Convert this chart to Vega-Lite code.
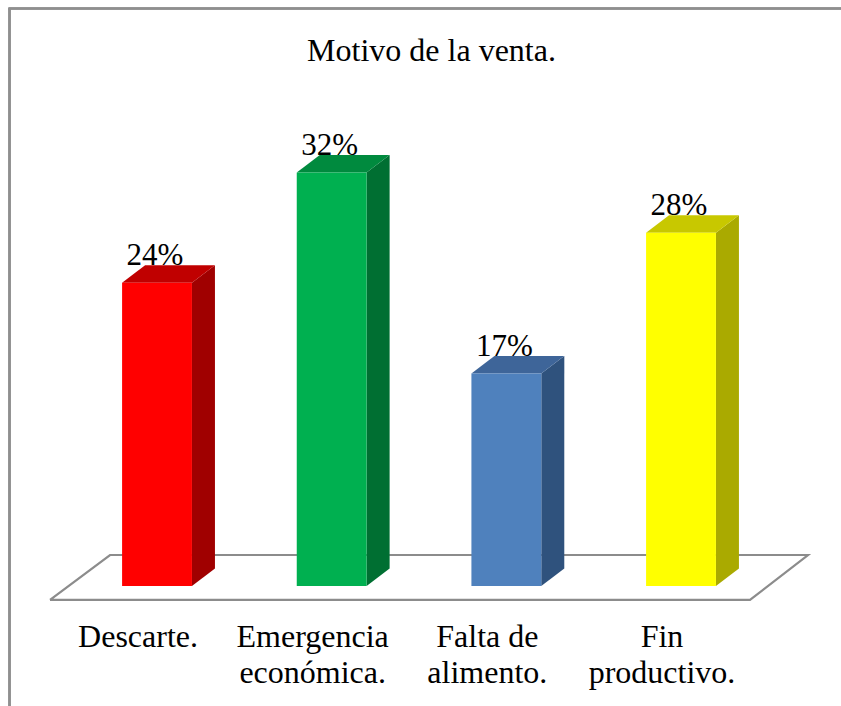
{
"$schema":"https://vega.github.io/schema/vega-lite/v6.json",
"width":841,"height":706,"autosize":{"type":"none"},"padding":0,"background":"white",
"view":{"stroke":null},
"title":{"text":"Motivo de la venta.","font":"Liberation Serif","fontSize":32,"fontWeight":"normal","color":"#000000","anchor":"middle","dx":11,"dy":72},
"datasets":{
"ventas":[
{"motivo":"Descarte.","orden":0,"valor":0.237},
{"motivo":"Emergencia económica.","orden":1,"valor":0.323},
{"motivo":"Falta de alimento.","orden":2,"valor":0.166},
{"motivo":"Fin productivo.","orden":3,"valor":0.276}
],
"piso":[
{"paso":0,"px":-0.6126,"py":-0.0109},
{"paso":1,"px":3.395,"py":-0.0109},
{"paso":2,"px":3.727,"py":0.0242},
{"paso":3,"px":-0.269,"py":0.0242},
{"paso":4,"px":-0.6126,"py":-0.0109}
]
},
"data":{"name":"ventas"},
"layer":[
{"data":{"name":"piso"},
 "mark":{"type":"line","color":"#8c8c8c","strokeWidth":2.2,"strokeJoin":"miter"},
 "encoding":{
  "x":{"field":"px","type":"quantitative","title":null,"scale":{"domain":[-0.899,3.916],"nice":false,"zero":false},
   "axis":{"title":null,"grid":false,"domain":false,"ticks":false,"values":[0,1,2,3],"offset":-85,"labelOffset":-19.5,"labelFont":"Liberation Serif","labelFontSize":32,"labelColor":"#000000","labelPadding":0,"labelLineHeight":36,"labelBaseline":"top","labelOverlap":false,"labelFlush":false,
   "labelExpr":"[['Descarte.'],['Emergencia','económica.'],['Falta de','alimento.'],['Fin','productivo.']][datum.value]"}},
  "y":{"field":"py","type":"quantitative","scale":{"domain":[-0.09375,0.4578],"nice":false,"zero":false},"axis":null},
  "order":{"field":"paso","type":"quantitative"}
 }},
{"mark":{"type":"rule","color":"#8f8f8f","strokeWidth":2},
 "encoding":{"x":{"datum":-0.8445,"type":"quantitative","title":null},"y":{"datum":0.4512,"type":"quantitative","axis":null},"y2":{"datum":-0.09375}}},
{"mark":{"type":"rule","color":"#8f8f8f","strokeWidth":2},
 "encoding":{"x":{"datum":-0.85,"type":"quantitative","title":null},"x2":{"datum":3.916},"y":{"datum":0.4512,"type":"quantitative","axis":null}}},
{"transform":[
  {"calculate":"[0,1]","as":"t"},{"flatten":["t"]},
  {"calculate":"datum.orden+0.2+datum.t*0.1317","as":"sx"},
  {"calculate":"datum.t*0.01367","as":"sy0"},
  {"calculate":"datum.valor+datum.t*0.01367","as":"sy1"}],
 "mark":{"type":"area","orient":"vertical","opacity":1},
 "encoding":{
  "x":{"field":"sx","type":"quantitative","title":null},
  "y":{"field":"sy1","type":"quantitative","axis":null,"stack":null},
  "y2":{"field":"sy0"},
  "detail":{"field":"motivo"},
  "color":{"field":"motivo","type":"nominal","legend":null,"scale":{"domain":["Descarte.","Emergencia económica.","Falta de alimento.","Fin productivo."],"range":["#A00000","#006F32","#2F527D","#AAAA00"]}}
 }},
{"transform":[
  {"calculate":"[0,1]","as":"t"},{"flatten":["t"]},
  {"calculate":"datum.orden-0.2+datum.t*0.1317","as":"tx0"},
  {"calculate":"datum.orden+0.2+datum.t*0.1317","as":"tx1"},
  {"calculate":"datum.valor+datum.t*0.01367","as":"ty"}],
 "mark":{"type":"area","orient":"horizontal","opacity":1},
 "encoding":{
  "y":{"field":"ty","type":"quantitative","axis":null},
  "x":{"field":"tx1","type":"quantitative","title":null,"stack":null},
  "x2":{"field":"tx0"},
  "detail":{"field":"motivo"},
  "color":{"field":"motivo","type":"nominal","legend":null,"scale":{"domain":["Descarte.","Emergencia económica.","Falta de alimento.","Fin productivo."],"range":["#C00000","#008A3E","#3E6599","#C8C800"]}}
 }},
{"transform":[
  {"calculate":"datum.orden-0.2","as":"fx0"},
  {"calculate":"datum.orden+0.2","as":"fx1"}],
 "mark":{"type":"rect"},
 "encoding":{
  "x":{"field":"fx0","type":"quantitative","title":null},
  "x2":{"field":"fx1"},
  "y":{"field":"valor","type":"quantitative","axis":null},
  "y2":{"datum":0},
  "color":{"field":"motivo","type":"nominal","legend":null,"scale":{"domain":["Descarte.","Emergencia económica.","Falta de alimento.","Fin productivo."],"range":["#FF0000","#00B050","#4F81BD","#FFFF00"]}}
 }},
{"transform":[{"calculate":"datum.valor+0.01367","as":"ly"}],
 "mark":{"type":"text","font":"Liberation Serif","fontSize":31,"color":"#000000","baseline":"alphabetic","align":"center","dx":-2},
 "encoding":{
  "x":{"field":"orden","type":"quantitative","title":null},
  "y":{"field":"ly","type":"quantitative","axis":null},
  "text":{"field":"valor","type":"quantitative","format":".0%"}
 }}
],
"resolve":{"scale":{"color":"independent"}}
}
